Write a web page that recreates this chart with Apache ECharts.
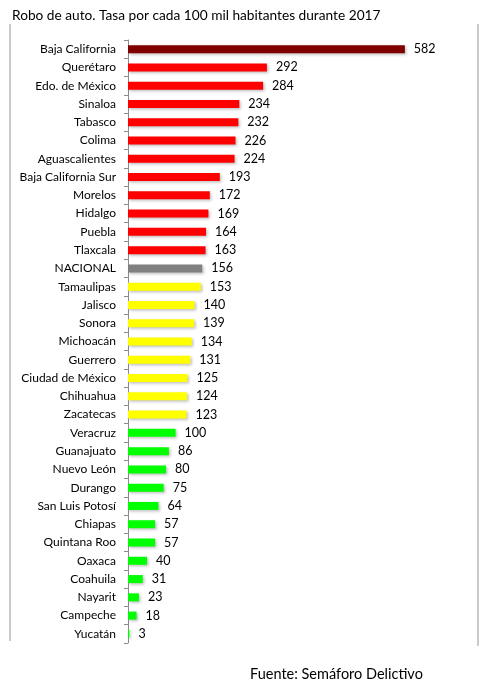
<!DOCTYPE html>
<html>
<head>
<meta charset="utf-8">
<script src="https://cdn.jsdelivr.net/npm/echarts@6/dist/echarts.min.js"></script>
<style>html,body{margin:0;padding:0;background:#fff;}#c{width:487px;height:690px;}</style>
</head>
<body>
<div id="c"></div>
<script>
var categories = ["Baja California","Querétaro","Edo. de México","Sinaloa","Tabasco","Colima","Aguascalientes","Baja California Sur","Morelos","Hidalgo","Puebla","Tlaxcala","NACIONAL","Tamaulipas","Jalisco","Sonora","Michoacán","Guerrero","Ciudad de México","Chihuahua","Zacatecas","Veracruz","Guanajuato","Nuevo León","Durango","San Luis Potosí","Chiapas","Quintana Roo","Oaxaca","Coahuila","Nayarit","Campeche","Yucatán"];
var values = [582,292,284,234,232,226,224,193,172,169,164,163,156,153,140,139,134,131,125,124,123,100,86,80,75,64,57,57,40,31,23,18,3];
var levels = ["max","high","high","high","high","high","high","high","high","high","high","high","nat","mid","mid","mid","mid","mid","mid","mid","mid","low","low","low","low","low","low","low","low","low","low","low","low"];
var levelColors = {max:"#800000", high:"#ff0000", nat:"#808080", mid:"#ffff00", low:"#00ff00"};
var FONT = "Lato";

var chart = echarts.init(document.getElementById('c'));
chart.setOption({
  animation:false,
  backgroundColor:'#fff',
  title:{text:'Robo de auto. Tasa por cada 100 mil habitantes durante 2017', left:7, top:4,
    textStyle:{fontFamily:FONT, fontSize:13.7, fontWeight:'normal', color:'#000'}},
  graphic:[
    {type:'line', shape:{x1:10,y1:24,x2:10,y2:641}, style:{stroke:'#b8b8b8', lineWidth:1.5}},
    {type:'line', shape:{x1:478,y1:24,x2:478,y2:646}, style:{stroke:'#b8b8b8', lineWidth:1.5}},
    {type:'text', left:250, top:667, style:{text:'Fuente: Semáforo Delictivo', fontFamily:FONT, fontSize:14.5, fill:'#000'}}
  ],
  grid:{left:128, top:40, bottom:47, width:333, containLabel:false},
  xAxis:{type:'value', min:0, max:700, show:false},
  yAxis:{type:'category', data:categories, inverse:true,
    axisLine:{lineStyle:{color:'#8c8c8c'}},
    axisTick:{show:true, length:4, lineStyle:{color:'#8c8c8c'}},
    axisLabel:{fontFamily:FONT, fontSize:12, color:'#000', margin:12}},
  series:[{
    type:'bar', data:values.map(function(v,i){return {value:v, itemStyle:{color:levelColors[levels[i]]}};}),
    barWidth:8,
    itemStyle:{shadowColor:'rgba(0,0,0,0.25)', shadowBlur:3, shadowOffsetX:1.5, shadowOffsetY:1.5},
    label:{show:true, position:'right', distance:9, fontFamily:FONT, fontSize:12.5, color:'#000'}
  }]
});
</script>
</body>
</html>
